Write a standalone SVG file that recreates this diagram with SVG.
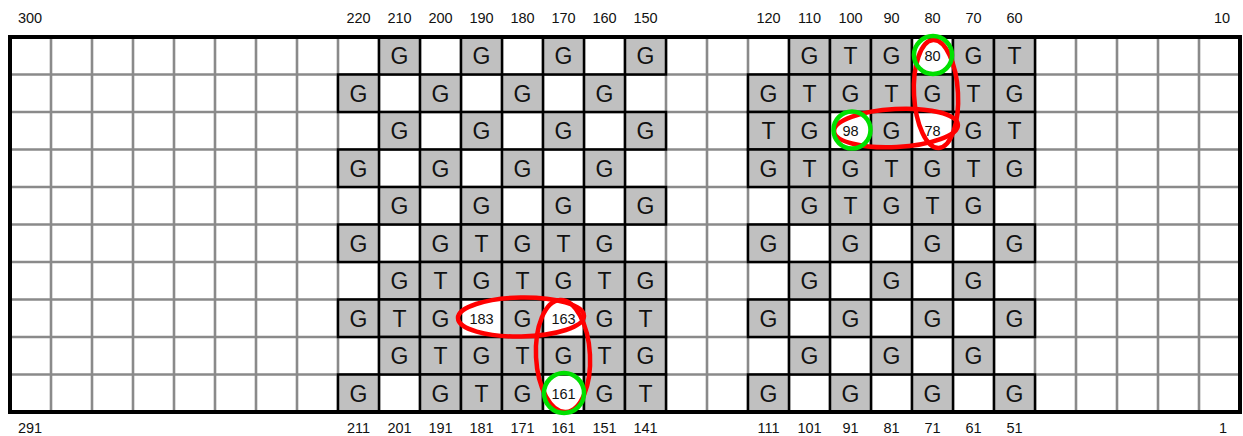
<svg xmlns="http://www.w3.org/2000/svg" width="1243" height="436" viewBox="0 0 1243 436">
<style>
.gl{stroke:#8a8a8a;stroke-width:2.6;fill:none}
.g{fill:#c0c0c0;stroke:#000;stroke-width:2.5}
.w{fill:#fff;stroke:#000;stroke-width:2.5}
.L{font-family:"Liberation Sans",Arial,sans-serif;font-size:23px;text-anchor:middle;fill:#111}
.n{font-family:"Liberation Sans",Arial,sans-serif;font-size:14.5px;text-anchor:middle;fill:#111}
.lbl{font-family:"Liberation Sans",Arial,sans-serif;font-size:14.5px;text-anchor:middle;fill:#111}
.red{fill:none;stroke:#ff0000;stroke-width:4.5}
.grn{fill:none;stroke:#00e000;stroke-width:4.5}
</style>
<rect width="1243" height="436" fill="#fff"/>
<g id="gridlines" class="gl">
<path d="M51 37V412M92 37V412M133 37V412M174 37V412M215 37V412M256 37V412M297 37V412M338 37V412M379 37V412M420 37V412M461 37V412M502 37V412M543 37V412M584 37V412M625 37V412M666 37V412M707 37V412M748 37V412M789 37V412M830 37V412M871 37V412M912 37V412M953 37V412M994 37V412M1035 37V412M1076 37V412M1117 37V412M1158 37V412M1199 37V412"/>
<path d="M10 74.5H1240M10 112H1240M10 149.5H1240M10 187H1240M10 224.5H1240M10 262H1240M10 299.5H1240M10 337H1240M10 374.5H1240"/>
</g>
<g id="block-left">
<rect class="g" x="379" y="37" width="41" height="37.5"/><text class="L" x="399.5" y="64">G</text>
<rect class="g" x="461" y="37" width="41" height="37.5"/><text class="L" x="481.5" y="64">G</text>
<rect class="g" x="543" y="37" width="41" height="37.5"/><text class="L" x="563.5" y="64">G</text>
<rect class="g" x="625" y="37" width="41" height="37.5"/><text class="L" x="645.5" y="64">G</text>
<rect class="g" x="338" y="74.5" width="41" height="37.5"/><text class="L" x="358.5" y="101.5">G</text>
<rect class="g" x="420" y="74.5" width="41" height="37.5"/><text class="L" x="440.5" y="101.5">G</text>
<rect class="g" x="502" y="74.5" width="41" height="37.5"/><text class="L" x="522.5" y="101.5">G</text>
<rect class="g" x="584" y="74.5" width="41" height="37.5"/><text class="L" x="604.5" y="101.5">G</text>
<rect class="g" x="379" y="112" width="41" height="37.5"/><text class="L" x="399.5" y="139">G</text>
<rect class="g" x="461" y="112" width="41" height="37.5"/><text class="L" x="481.5" y="139">G</text>
<rect class="g" x="543" y="112" width="41" height="37.5"/><text class="L" x="563.5" y="139">G</text>
<rect class="g" x="625" y="112" width="41" height="37.5"/><text class="L" x="645.5" y="139">G</text>
<rect class="g" x="338" y="149.5" width="41" height="37.5"/><text class="L" x="358.5" y="176.5">G</text>
<rect class="g" x="420" y="149.5" width="41" height="37.5"/><text class="L" x="440.5" y="176.5">G</text>
<rect class="g" x="502" y="149.5" width="41" height="37.5"/><text class="L" x="522.5" y="176.5">G</text>
<rect class="g" x="584" y="149.5" width="41" height="37.5"/><text class="L" x="604.5" y="176.5">G</text>
<rect class="g" x="379" y="187" width="41" height="37.5"/><text class="L" x="399.5" y="214">G</text>
<rect class="g" x="461" y="187" width="41" height="37.5"/><text class="L" x="481.5" y="214">G</text>
<rect class="g" x="543" y="187" width="41" height="37.5"/><text class="L" x="563.5" y="214">G</text>
<rect class="g" x="625" y="187" width="41" height="37.5"/><text class="L" x="645.5" y="214">G</text>
<rect class="g" x="338" y="224.5" width="41" height="37.5"/><text class="L" x="358.5" y="251.5">G</text>
<rect class="g" x="420" y="224.5" width="41" height="37.5"/><text class="L" x="440.5" y="251.5">G</text>
<rect class="g" x="461" y="224.5" width="41" height="37.5"/><text class="L" x="481.5" y="251.5">T</text>
<rect class="g" x="502" y="224.5" width="41" height="37.5"/><text class="L" x="522.5" y="251.5">G</text>
<rect class="g" x="543" y="224.5" width="41" height="37.5"/><text class="L" x="563.5" y="251.5">T</text>
<rect class="g" x="584" y="224.5" width="41" height="37.5"/><text class="L" x="604.5" y="251.5">G</text>
<rect class="g" x="379" y="262" width="41" height="37.5"/><text class="L" x="399.5" y="289">G</text>
<rect class="g" x="420" y="262" width="41" height="37.5"/><text class="L" x="440.5" y="289">T</text>
<rect class="g" x="461" y="262" width="41" height="37.5"/><text class="L" x="481.5" y="289">G</text>
<rect class="g" x="502" y="262" width="41" height="37.5"/><text class="L" x="522.5" y="289">T</text>
<rect class="g" x="543" y="262" width="41" height="37.5"/><text class="L" x="563.5" y="289">G</text>
<rect class="g" x="584" y="262" width="41" height="37.5"/><text class="L" x="604.5" y="289">T</text>
<rect class="g" x="625" y="262" width="41" height="37.5"/><text class="L" x="645.5" y="289">G</text>
<rect class="g" x="338" y="299.5" width="41" height="37.5"/><text class="L" x="358.5" y="326.5">G</text>
<rect class="g" x="379" y="299.5" width="41" height="37.5"/><text class="L" x="399.5" y="326.5">T</text>
<rect class="g" x="420" y="299.5" width="41" height="37.5"/><text class="L" x="440.5" y="326.5">G</text>
<rect class="w" x="461" y="299.5" width="41" height="37.5"/><text class="n" x="481.5" y="323.5">183</text>
<rect class="g" x="502" y="299.5" width="41" height="37.5"/><text class="L" x="522.5" y="326.5">G</text>
<rect class="w" x="543" y="299.5" width="41" height="37.5"/><text class="n" x="563.5" y="323.5">163</text>
<rect class="g" x="584" y="299.5" width="41" height="37.5"/><text class="L" x="604.5" y="326.5">G</text>
<rect class="g" x="625" y="299.5" width="41" height="37.5"/><text class="L" x="645.5" y="326.5">T</text>
<rect class="g" x="379" y="337" width="41" height="37.5"/><text class="L" x="399.5" y="364">G</text>
<rect class="g" x="420" y="337" width="41" height="37.5"/><text class="L" x="440.5" y="364">T</text>
<rect class="g" x="461" y="337" width="41" height="37.5"/><text class="L" x="481.5" y="364">G</text>
<rect class="g" x="502" y="337" width="41" height="37.5"/><text class="L" x="522.5" y="364">T</text>
<rect class="g" x="543" y="337" width="41" height="37.5"/><text class="L" x="563.5" y="364">G</text>
<rect class="g" x="584" y="337" width="41" height="37.5"/><text class="L" x="604.5" y="364">T</text>
<rect class="g" x="625" y="337" width="41" height="37.5"/><text class="L" x="645.5" y="364">G</text>
<rect class="g" x="338" y="374.5" width="41" height="37.5"/><text class="L" x="358.5" y="401.5">G</text>
<rect class="g" x="420" y="374.5" width="41" height="37.5"/><text class="L" x="440.5" y="401.5">G</text>
<rect class="g" x="461" y="374.5" width="41" height="37.5"/><text class="L" x="481.5" y="401.5">T</text>
<rect class="g" x="502" y="374.5" width="41" height="37.5"/><text class="L" x="522.5" y="401.5">G</text>
<rect class="w" x="543" y="374.5" width="41" height="37.5"/><text class="n" x="563.5" y="398.5">161</text>
<rect class="g" x="584" y="374.5" width="41" height="37.5"/><text class="L" x="604.5" y="401.5">G</text>
<rect class="g" x="625" y="374.5" width="41" height="37.5"/><text class="L" x="645.5" y="401.5">T</text>
</g>
<g id="block-right">
<rect class="g" x="789" y="37" width="41" height="37.5"/><text class="L" x="809.5" y="64">G</text>
<rect class="g" x="830" y="37" width="41" height="37.5"/><text class="L" x="850.5" y="64">T</text>
<rect class="g" x="871" y="37" width="41" height="37.5"/><text class="L" x="891.5" y="64">G</text>
<rect class="w" x="912" y="37" width="41" height="37.5"/><text class="n" x="932.5" y="61">80</text>
<rect class="g" x="953" y="37" width="41" height="37.5"/><text class="L" x="973.5" y="64">G</text>
<rect class="g" x="994" y="37" width="41" height="37.5"/><text class="L" x="1014.5" y="64">T</text>
<rect class="g" x="748" y="74.5" width="41" height="37.5"/><text class="L" x="768.5" y="101.5">G</text>
<rect class="g" x="789" y="74.5" width="41" height="37.5"/><text class="L" x="809.5" y="101.5">T</text>
<rect class="g" x="830" y="74.5" width="41" height="37.5"/><text class="L" x="850.5" y="101.5">G</text>
<rect class="g" x="871" y="74.5" width="41" height="37.5"/><text class="L" x="891.5" y="101.5">T</text>
<rect class="g" x="912" y="74.5" width="41" height="37.5"/><text class="L" x="932.5" y="101.5">G</text>
<rect class="g" x="953" y="74.5" width="41" height="37.5"/><text class="L" x="973.5" y="101.5">T</text>
<rect class="g" x="994" y="74.5" width="41" height="37.5"/><text class="L" x="1014.5" y="101.5">G</text>
<rect class="g" x="748" y="112" width="41" height="37.5"/><text class="L" x="768.5" y="139">T</text>
<rect class="g" x="789" y="112" width="41" height="37.5"/><text class="L" x="809.5" y="139">G</text>
<rect class="w" x="830" y="112" width="41" height="37.5"/><text class="n" x="850.5" y="136">98</text>
<rect class="g" x="871" y="112" width="41" height="37.5"/><text class="L" x="891.5" y="139">G</text>
<rect class="w" x="912" y="112" width="41" height="37.5"/><text class="n" x="932.5" y="136">78</text>
<rect class="g" x="953" y="112" width="41" height="37.5"/><text class="L" x="973.5" y="139">G</text>
<rect class="g" x="994" y="112" width="41" height="37.5"/><text class="L" x="1014.5" y="139">T</text>
<rect class="g" x="748" y="149.5" width="41" height="37.5"/><text class="L" x="768.5" y="176.5">G</text>
<rect class="g" x="789" y="149.5" width="41" height="37.5"/><text class="L" x="809.5" y="176.5">T</text>
<rect class="g" x="830" y="149.5" width="41" height="37.5"/><text class="L" x="850.5" y="176.5">G</text>
<rect class="g" x="871" y="149.5" width="41" height="37.5"/><text class="L" x="891.5" y="176.5">T</text>
<rect class="g" x="912" y="149.5" width="41" height="37.5"/><text class="L" x="932.5" y="176.5">G</text>
<rect class="g" x="953" y="149.5" width="41" height="37.5"/><text class="L" x="973.5" y="176.5">T</text>
<rect class="g" x="994" y="149.5" width="41" height="37.5"/><text class="L" x="1014.5" y="176.5">G</text>
<rect class="g" x="789" y="187" width="41" height="37.5"/><text class="L" x="809.5" y="214">G</text>
<rect class="g" x="830" y="187" width="41" height="37.5"/><text class="L" x="850.5" y="214">T</text>
<rect class="g" x="871" y="187" width="41" height="37.5"/><text class="L" x="891.5" y="214">G</text>
<rect class="g" x="912" y="187" width="41" height="37.5"/><text class="L" x="932.5" y="214">T</text>
<rect class="g" x="953" y="187" width="41" height="37.5"/><text class="L" x="973.5" y="214">G</text>
<rect class="g" x="748" y="224.5" width="41" height="37.5"/><text class="L" x="768.5" y="251.5">G</text>
<rect class="g" x="830" y="224.5" width="41" height="37.5"/><text class="L" x="850.5" y="251.5">G</text>
<rect class="g" x="912" y="224.5" width="41" height="37.5"/><text class="L" x="932.5" y="251.5">G</text>
<rect class="g" x="994" y="224.5" width="41" height="37.5"/><text class="L" x="1014.5" y="251.5">G</text>
<rect class="g" x="789" y="262" width="41" height="37.5"/><text class="L" x="809.5" y="289">G</text>
<rect class="g" x="871" y="262" width="41" height="37.5"/><text class="L" x="891.5" y="289">G</text>
<rect class="g" x="953" y="262" width="41" height="37.5"/><text class="L" x="973.5" y="289">G</text>
<rect class="g" x="748" y="299.5" width="41" height="37.5"/><text class="L" x="768.5" y="326.5">G</text>
<rect class="g" x="830" y="299.5" width="41" height="37.5"/><text class="L" x="850.5" y="326.5">G</text>
<rect class="g" x="912" y="299.5" width="41" height="37.5"/><text class="L" x="932.5" y="326.5">G</text>
<rect class="g" x="994" y="299.5" width="41" height="37.5"/><text class="L" x="1014.5" y="326.5">G</text>
<rect class="g" x="789" y="337" width="41" height="37.5"/><text class="L" x="809.5" y="364">G</text>
<rect class="g" x="871" y="337" width="41" height="37.5"/><text class="L" x="891.5" y="364">G</text>
<rect class="g" x="953" y="337" width="41" height="37.5"/><text class="L" x="973.5" y="364">G</text>
<rect class="g" x="748" y="374.5" width="41" height="37.5"/><text class="L" x="768.5" y="401.5">G</text>
<rect class="g" x="830" y="374.5" width="41" height="37.5"/><text class="L" x="850.5" y="401.5">G</text>
<rect class="g" x="912" y="374.5" width="41" height="37.5"/><text class="L" x="932.5" y="401.5">G</text>
<rect class="g" x="994" y="374.5" width="41" height="37.5"/><text class="L" x="1014.5" y="401.5">G</text>
</g>
<rect id="frame" x="10" y="37" width="1230" height="375" fill="none" stroke="#000" stroke-width="4"/>
<g id="labels-top" class="lbl">
<text x="30" y="23">300</text>
<text x="358.5" y="23">220</text><text x="399.5" y="23">210</text><text x="440.5" y="23">200</text><text x="481.5" y="23">190</text>
<text x="522.5" y="23">180</text><text x="563.5" y="23">170</text><text x="604.5" y="23">160</text><text x="645.5" y="23">150</text>
<text x="768.5" y="23">120</text><text x="809.5" y="23">110</text><text x="850.5" y="23">100</text><text x="891.5" y="23">90</text>
<text x="932.5" y="23">80</text><text x="973.5" y="23">70</text><text x="1014.5" y="23">60</text>
<text x="1222" y="23">10</text>
</g>
<g id="labels-bottom" class="lbl">
<text x="30" y="433">291</text>
<text x="358.5" y="433">211</text><text x="399.5" y="433">201</text><text x="440.5" y="433">191</text><text x="481.5" y="433">181</text>
<text x="522.5" y="433">171</text><text x="563.5" y="433">161</text><text x="604.5" y="433">151</text><text x="645.5" y="433">141</text>
<text x="768.5" y="433">111</text><text x="809.5" y="433">101</text><text x="850.5" y="433">91</text><text x="891.5" y="433">81</text>
<text x="932.5" y="433">71</text><text x="973.5" y="433">61</text><text x="1014.5" y="433">51</text>
<text x="1223" y="433">1</text>
</g>
<g id="marks">
<ellipse class="red" cx="936" cy="94" rx="22" ry="54" transform="rotate(-3 936 94)"/>
<ellipse class="red" cx="896" cy="128" rx="62" ry="19" transform="rotate(-3 896 128)"/>
<ellipse class="red" cx="521" cy="317" rx="63" ry="19.5" transform="rotate(-1 521 317)"/>
<ellipse class="red" cx="563" cy="356" rx="27" ry="56" transform="rotate(-3 563 356)"/>
<circle class="grn" cx="933" cy="55" r="19"/>
<circle class="grn" cx="852" cy="130" r="18.5"/>
<circle class="grn" cx="564" cy="393" r="20"/>
</g>
</svg>
